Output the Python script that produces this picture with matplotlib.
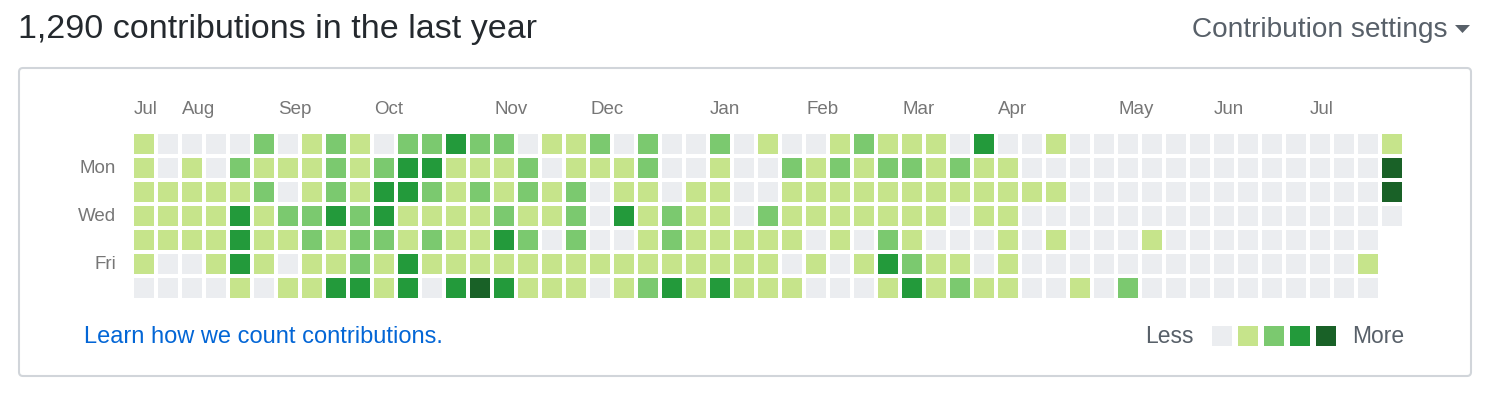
import matplotlib
matplotlib.use('Agg')
import matplotlib.pyplot as plt
from matplotlib.patches import FancyBboxPatch, Rectangle, Polygon

plt.rcParams['font.family'] = ['Liberation Sans', 'DejaVu Sans']

# contribution level per day (0 = none .. 4 = most), one string per weekday,
# one character per week; '.' = day not reached yet
sun = "10000201210223" + "2201120200201" + "0012111030010" + "0000000000001"
mon = "10102111212331" + "1120111200100" + "2121221211000" + "0000000000004"
tue = "11111201213321" + "2121201101100" + "1111111111110" + "0000000000004"
wed = "11113122323111" + "1211203121102" + "1111111011000" + "0000000000000"
thu = "11113112122121" + "1320200121111" + "1010210001010" + "001000000000."
fri = "10013101121311" + "1111111111111" + "0101321101000" + "000000000001."
sat = "00001011331303" + "4311101231311" + "1000131211001" + "020000000000."
week_rows = [sun, mon, tue, wed, thu, fri, sat]

month_names = ["Jul", "Aug", "Sep", "Oct", "Nov", "Dec", "Jan",
               "Feb", "Mar", "Apr", "May", "Jun", "Jul"]
month_weeks = [0, 2, 6, 10, 15, 19, 24, 28, 32, 36, 41, 45, 49]
day_names = {1: "Mon", 3: "Wed", 5: "Fri"}

palette = ["#ebedf0", "#c6e48b", "#7bc96f", "#239a3b", "#196127"]

W, H = 1498, 404
fig = plt.figure(figsize=(W / 100, H / 100), dpi=100)

# overlay axes in pixel units for the frame and text
bg = fig.add_axes([0, 0, 1, 1])
bg.set_xlim(0, W)
bg.set_ylim(H, 0)
bg.axis('off')

bg.text(18, 38, "1,290 contributions in the last year", fontsize=24.5,
        color='#24292e', va='baseline', ha='left')
bg.text(1447, 37, "Contribution settings", fontsize=20.2,
        color='#586069', va='baseline', ha='right')
bg.add_patch(Polygon([[1455, 25], [1470, 25], [1462.5, 33]], closed=True,
                     color='#586069', lw=0))

bg.add_patch(FancyBboxPatch((19, 68), 1452, 308,
                            boxstyle='round,pad=0,rounding_size=4',
                            fc='white', ec='#d1d5da', lw=1.5))

bg.text(84, 343, "Learn how we count contributions.", fontsize=17,
        color='#0366d6', va='baseline', ha='left')
bg.text(1194, 343, "Less", fontsize=16.5, color='#586069',
        va='baseline', ha='right')
bg.text(1352, 343, "More", fontsize=16.5, color='#586069',
        va='baseline', ha='left')
for i, c in enumerate(palette):
    bg.add_patch(Rectangle((1212 + 26 * i, 326), 20, 20, color=c, lw=0))

# contribution grid: one unit per week / weekday
n_weeks = len(sun)
pitch = 24
gx0, gy0 = 134, 134
ax = fig.add_axes([gx0 / W, 1 - (gy0 + 7 * pitch) / H,
                   n_weeks * pitch / W, 7 * pitch / H])
ax.set_xlim(0, n_weeks)
ax.set_ylim(7, 0)
ax.axis('off')

xs, ys, cs = [], [], []
for d, row in enumerate(week_rows):
    for w, ch in enumerate(row):
        if ch == '.':
            continue
        xs.append(w)
        ys.append(d)
        cs.append(palette[int(ch)])
size = 20 / pitch
ax.bar(xs, size, width=size, bottom=ys, align='edge', color=cs, lw=0)

for name, w in zip(month_names, month_weeks):
    ax.text(w, -0.83, name, fontsize=13.5, color='#767676',
            va='baseline', ha='left')
for d, name in day_names.items():
    ax.text(-0.75, d + 0.62, name, fontsize=13.5, color='#767676',
            va='baseline', ha='right')

fig.savefig('out.png', dpi=100)
